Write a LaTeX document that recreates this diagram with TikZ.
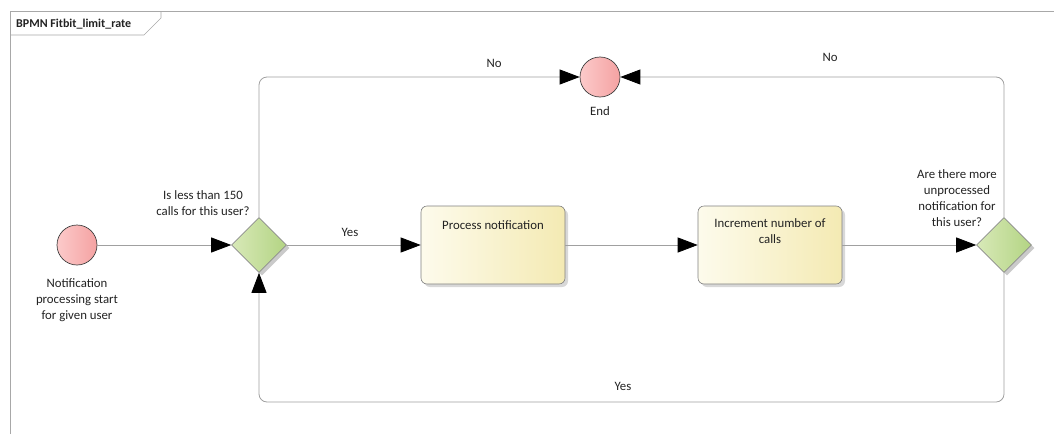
\documentclass[tikz,border=0pt]{standalone}
\usepackage{fontspec}
\setmainfont{Carlito}
\usetikzlibrary{arrows.meta,shapes.geometric,shadows}

\definecolor{flowgray}{HTML}{A0A0A0}
\definecolor{framegray}{HTML}{A8A8A8}
\definecolor{evleft}{HTML}{FCCACA}
\definecolor{evright}{HTML}{F4A2A2}
\definecolor{gwleft}{HTML}{D8E9B8}
\definecolor{gwright}{HTML}{B3D483}
\definecolor{tkleft}{HTML}{FDFBEC}
\definecolor{tkright}{HTML}{F4EAB3}
\definecolor{ink}{HTML}{222222}

\tikzset{
  txt/.style={font=\fontsize{12.8}{16}\selectfont, text=ink, align=center, inner sep=0pt},
  event/.style={circle, minimum size=40pt, inner sep=0pt, draw=black!75, line width=0.7pt,
    left color=evleft, right color=evright},
  gateway/.style={diamond, minimum width=55pt, minimum height=55pt, inner sep=0pt,
    draw=black!45, line width=0.6pt, left color=gwleft, right color=gwright,
    drop shadow={shadow xshift=3pt, shadow yshift=-3pt, fill=black!35, opacity=0.6}},
  task/.style={rectangle, rounded corners=6pt, minimum width=144pt, minimum height=78pt,
    inner sep=0pt, draw=black!50, line width=0.6pt, left color=tkleft, right color=tkright,
    drop shadow={shadow xshift=3pt, shadow yshift=-3pt, fill=black!30, opacity=0.5}},
  flow/.style={draw=flowgray, line width=0.8pt, rounded corners=8pt,
    -{Triangle[length=20pt, width=15pt, black]}},
}

\begin{document}
\begin{tikzpicture}[x=1pt, y=-1pt]
  \useasboundingbox (0,0) rectangle (1054,434);

  % diagram frame with its title tab
  \draw[framegray, line width=0.7pt] (10,434) -- (10,11) -- (1054,11);
  \draw[framegray, line width=0.7pt] (10,35) -- (144,35) -- (161,18) -- (161,11);
  \node[anchor=west, inner sep=0pt, font=\fontsize{12}{14}\bfseries, text=ink] (title) at (16,24) {BPMN Fitbit\_limit\_rate};

  % events
  \node[event] (start) at (77,245) {};
  \node[event] (end) at (600,77) {};
  \node[txt] (startlbl) at (77,300) {Notification\\processing start\\for given user};
  \node[txt] (endlbl) at (600,111) {End};

  % gateways
  \node[gateway] (gw1) at (259,245) {};
  \node[gateway] (gw2) at (1004,245) {};
  \node[txt] (gw1lbl) at (203,203) {Is less than 150\\calls for this user?};
  \node[txt] (gw2lbl) at (957,198) {Are there more\\unprocessed\\notification for\\this user?};

  % tasks
  \node[task] (t1) at (493,245) {};
  \node[task] (t2) at (770,245) {};
  \node[txt] (t1lbl) at (493,225) {Process notification};
  \node[txt, anchor=north] (t2lbl) at (770,218) {Increment number of\\calls};

  % sequence flows
  \draw[flow] (start) -- (gw1);
  \draw[flow] (gw1) -- (t1);
  \draw[flow] (t1) -- (t2);
  \draw[flow] (t2) -- (gw2);
  \draw[flow] (gw1.north) |- (end.west);
  \draw[flow] (gw2.north) |- (end.east);
  \coordinate (back) at (632,402);
  \draw[flow] (gw2.south) |- (back) -| (gw1.south);

  % flow labels
  \node[txt] (yes1) at (350,232) {Yes};
  \node[txt] (no1) at (494,63) {No};
  \node[txt] (no2) at (830,57) {No};
  \node[txt] (yes2) at (623,386) {Yes};
\end{tikzpicture}
\end{document}
